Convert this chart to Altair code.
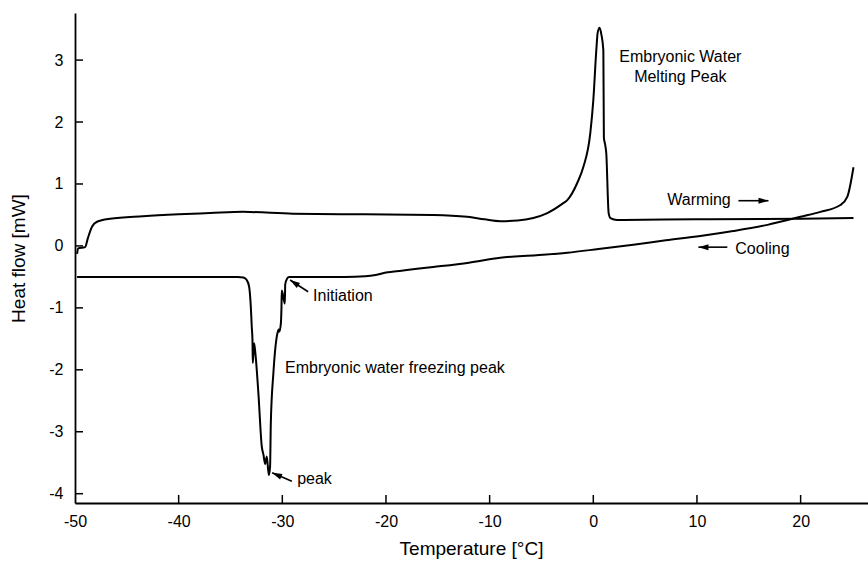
import altair as alt
import pandas as pd

# ---- data -------------------------------------------------------------
warm_temp = [-49.8, -49.7, -49.03, -48.75, -48.36, -47.88, -46.62, -43.44, -40.0,
             -36.97, -33.78, -28.96, -22.0, -15.44, -12.16, -10.5, -8.98, -7.3,
             -5.79, -4.44, -2.9, -2.51, -1.54, -0.97, -0.29, 0.0, 0.29, 0.42,
             0.61, 0.77, 0.97, 1.02, 1.16, 1.25, 1.48, 1.65, 2.3, 10.0, 20.0, 25.1]
warm_heat = [-0.13, -0.04, -0.02, 0.13, 0.31, 0.39, 0.44, 0.48, 0.51,
             0.53, 0.55, 0.52, 0.51, 0.5, 0.47, 0.43, 0.4, 0.41,
             0.45, 0.53, 0.69, 0.74, 1.02, 1.27, 1.82, 2.35, 3.16, 3.44,
             3.52, 3.42, 3.16, 1.75, 1.62, 1.5, 0.53, 0.45, 0.42, 0.43, 0.44, 0.45]

cool_temp = [-49.8, -45.0, -40.0, -36.0, -34.3, -33.75, -33.43, -33.2, -33.04,
             -32.95, -32.88, -32.85, -32.72, -32.6, -32.3, -31.98, -31.82, -31.66,
             -31.5, -31.3, -31.18, -31.11, -30.86, -30.53, -30.47, -30.34, -30.28,
             -30.14, -30.08, -30.05, -29.76, -29.72, -29.55, -29.34, -27.0, -24.0,
             -22.0, -21.0, -20.0, -18.5, -17.0, -15.44, -12.0, -8.98, -5.5, -2.51,
             0.5, 3.86, 7.0, 10.33, 13.5, 16.8, 19.98, 21.9, 23.84, 24.5, 25.1]
cool_heat = [-0.5, -0.5, -0.5, -0.5, -0.5, -0.51, -0.55, -0.66, -0.98,
             -1.3, -1.52, -1.89, -1.57, -1.73, -2.4, -3.24, -3.37, -3.52,
             -3.4, -3.7, -3.56, -2.86, -2.05, -1.46, -1.41, -1.35, -1.38,
             -1.25, -0.98, -0.72, -0.93, -0.62, -0.53, -0.5, -0.5, -0.5,
             -0.49, -0.47, -0.43, -0.4, -0.37, -0.34, -0.27, -0.19, -0.15, -0.11,
             -0.05, 0.02, 0.09, 0.16, 0.24, 0.34, 0.47, 0.55, 0.66, 0.79, 1.27]

x_ticks = [-50, -40, -30, -20, -10, 0, 10, 20]
y_ticks = [-4, -3, -2, -1, 0, 1, 2, 3]

label_text = ["Embryonic Water", "Melting Peak", "Warming", "Cooling",
              "Initiation", "Embryonic water freezing peak", "peak"]
label_temp = [8.4, 8.4, 7.14, 13.7, -27.03, -29.73, -28.57]
label_heat = [3.05, 2.73, 0.74, -0.05, -0.81, -1.97, -3.77]
label_align = ["center", "center", "left", "left", "left", "left", "left"]

arrow_tail_temp = [14.0, 12.93, -27.51, -29.08]
arrow_tail_heat = [0.73, -0.02, -0.74, -3.80]
arrow_head_temp = [16.9, 10.14, -29.25, -30.98]
arrow_head_heat = [0.73, -0.02, -0.55, -3.66]
arrow_angle = [90, 270, 304, 294]

X_DOMAIN = [-50, 26.5]
Y_DOMAIN = [-4.15, 3.76]
W, H = 793, 490
FONT = "Liberation Sans"

# ---- tables --------------------------------------------------------------
curves = pd.concat([
    pd.DataFrame({"temp": warm_temp, "heat": warm_heat, "series": "Warming",
                  "order": range(len(warm_temp))}),
    pd.DataFrame({"temp": cool_temp, "heat": cool_heat, "series": "Cooling",
                  "order": range(len(cool_temp))}),
])
labels = pd.DataFrame({"text": label_text, "temp": label_temp,
                       "heat": label_heat, "align": label_align})
arrows = pd.DataFrame({"t0": arrow_tail_temp, "h0": arrow_tail_heat,
                       "t1": arrow_head_temp, "h1": arrow_head_heat,
                       "angle": arrow_angle})
xt = pd.DataFrame({"temp": x_ticks[1:]})
yt = pd.DataFrame({"heat": y_ticks})

xs = alt.Scale(domain=X_DOMAIN, nice=False, zero=False)
ys = alt.Scale(domain=Y_DOMAIN, nice=False, zero=False)

x_axis = alt.Axis(values=x_ticks, ticks=False, grid=False, domainColor="black",
                  domainWidth=1.8, labelFont=FONT, labelFontSize=16,
                  labelColor="black", labelPadding=10, labelFlush=False,
                  labelExpr="datum.value + ''", title="Temperature [°C]",
                  titleFont=FONT, titleFontSize=19, titleFontWeight="normal",
                  titleColor="black", titleX=396, titleY=45,
                  titleBaseline="middle", titleAlign="center")
y_axis = alt.Axis(values=y_ticks, ticks=False, grid=False, domainColor="black",
                  domainWidth=1.8, labelFont=FONT, labelFontSize=16,
                  labelColor="black", labelPadding=12, labelFlush=False,
                  labelExpr="datum.value + ''", title="Heat flow [mW]",
                  titleFont=FONT, titleFontSize=19, titleFontWeight="normal",
                  titleColor="black", titleX=-57, titleY=H / 2, titleAngle=-90,
                  titleBaseline="middle", titleAlign="center")

lines = alt.Chart(curves).mark_line(color="black", strokeWidth=2,
                                    interpolate="monotone").encode(
    x=alt.X("temp:Q", scale=xs, axis=x_axis),
    y=alt.Y("heat:Q", scale=ys, axis=y_axis),
    detail="series:N",
    order="order:Q",
)

xtick = alt.Chart(xt).mark_rule(color="black", strokeWidth=1.5).encode(
    x=alt.X("temp:Q", scale=xs), y=alt.value(H), y2=alt.value(H - 8))
ytick = alt.Chart(yt).mark_rule(color="black", strokeWidth=1.5).encode(
    y=alt.Y("heat:Q", scale=ys), x=alt.value(0), x2=alt.value(8))

text_left = alt.Chart(labels[labels["align"] == "left"]).mark_text(
    align="left", baseline="middle", font=FONT, fontSize=16, color="black"
).encode(x=alt.X("temp:Q", scale=xs), y=alt.Y("heat:Q", scale=ys), text="text:N")
text_center = alt.Chart(labels[labels["align"] == "center"]).mark_text(
    align="center", baseline="middle", font=FONT, fontSize=16, color="black"
).encode(x=alt.X("temp:Q", scale=xs), y=alt.Y("heat:Q", scale=ys), text="text:N")

shafts = alt.Chart(arrows).mark_rule(color="black", strokeWidth=1.6).encode(
    x=alt.X("t0:Q", scale=xs), y=alt.Y("h0:Q", scale=ys),
    x2="t1:Q", y2="h1:Q")
heads = alt.Chart(arrows).mark_point(
    shape="M0,0L0.6,2L-0.6,2Z", filled=True, color="black", opacity=1,
    size=100, strokeWidth=0
).encode(x=alt.X("t1:Q", scale=xs), y=alt.Y("h1:Q", scale=ys),
         angle=alt.Angle("angle:Q", scale=None))

chart = alt.layer(lines, xtick, ytick, shafts, heads, text_left, text_center).properties(
    width=W, height=H,
    autosize=alt.AutoSizeParams(type="none"),
    padding={"left": 75, "top": 13, "right": 0, "bottom": 60},
    background="white",
).configure_view(stroke=None)

chart.save("out.html", embed_options={"renderer": "svg", "actions": False})
